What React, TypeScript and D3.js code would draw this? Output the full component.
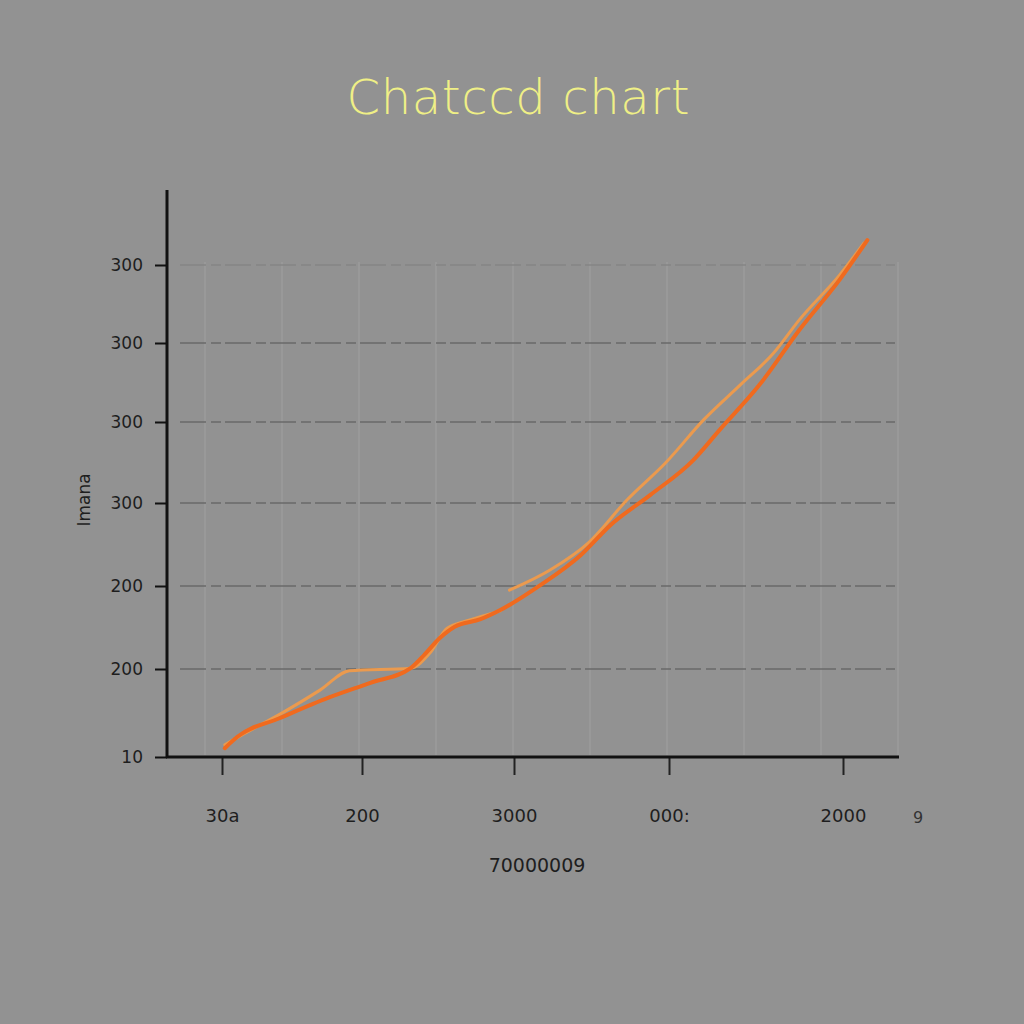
import React, { useEffect, useRef } from 'react';
import * as d3 from 'd3';

// tick labels (as printed on the chart)
const yTickLabels = ['10', '200', '200', '300', '300', '300', '300'];
const xTickLabels = ['30a', '200', '3000', '000:', '2000'];

// series 1 (dark orange)
const seriesAX = [0.02, 0.11, 0.41, 0.77, 1.05, 1.32, 1.41, 1.51, 1.61, 1.78, 1.91, 2.17, 2.43, 2.62, 2.88, 3.14, 3.29, 3.52, 3.75, 3.98, 4.14];
const seriesAY = [0.1, 0.23, 0.44, 0.68, 0.84, 1.01, 1.17, 1.37, 1.51, 1.6, 1.71, 2.01, 2.37, 2.73, 3.1, 3.53, 3.9, 4.47, 5.17, 5.81, 6.32];

// series 2 (light orange), null marks the break in the line
const seriesBX = [0.02, 0.13, 0.44, 0.7, 0.91, 1.32, 1.45, 1.56, 1.71, 1.91, 1.94, 1.97, 2.23, 2.48, 2.73, 2.98, 3.2, 3.41, 3.6, 3.75, 3.98, 4.12];
const seriesBY: (number | null)[] = [0.14, 0.24, 0.51, 0.76, 0.98, 1.01, 1.2, 1.49, 1.59, 1.7, null, 1.95, 2.19, 2.52, 3.04, 3.5, 4.03, 4.47, 4.87, 5.3, 5.87, 6.28];

const W = 1024;
const H = 1024;
const BG = '#929292';

const App: React.FC = () => {
  const svgRef = useRef<SVGSVGElement>(null);

  useEffect(() => {
    document.body.style.margin = '0';
    document.body.style.background = BG;
    if (!svgRef.current) return;
    const svg = d3.select(svgRef.current);
    svg.selectAll('*').remove();

    svg.append('rect').attr('width', W).attr('height', H).attr('fill', BG);

    // uneven spacing of the printed ticks -> polylinear scales
    const x = d3.scaleLinear().domain([0, 1, 2, 3, 4]).range([222, 362, 514, 669, 843]);
    const y = d3.scaleLinear().domain([0, 1, 2, 3, 4, 5, 6]).range([757, 669, 586, 503, 422, 343, 265]);

    // vertical faint grid
    const vGrid = d3.range(0, 10).map(i => 205 + i * 77);
    svg.append('g')
      .selectAll('line')
      .data(vGrid)
      .join('line')
      .attr('x1', d => d).attr('x2', d => d)
      .attr('y1', 262).attr('y2', 755)
      .attr('stroke', '#9b9b9b')
      .attr('stroke-width', 1.5);

    // horizontal dashed grid
    svg.append('g')
      .selectAll('line')
      .data(d3.range(1, 7))
      .join('line')
      .attr('x1', 180).attr('x2', 895)
      .attr('y1', d => y(d)).attr('y2', d => y(d))
      .attr('stroke', d => (d === 6 ? '#858585' : '#6a6a6a'))
      .attr('stroke-width', 1.6)
      .attr('stroke-dasharray', '26 5 10 4');

    // y axis
    const yAxis = svg.append('g')
      .attr('transform', 'translate(167,0)')
      .call(d3.axisLeft(y).tickValues(d3.range(0, 7)).tickSize(12).tickPadding(12)
        .tickFormat((d: any) => yTickLabels[d]));
    yAxis.select('.domain').remove();
    yAxis.selectAll('line').attr('stroke', '#111').attr('stroke-width', 2);
    yAxis.selectAll('text')
      .attr('fill', '#1e1e1e')
      .style('font-family', 'DejaVu Sans, sans-serif')
      .style('font-size', '17px');

    // x axis
    const xAxis = svg.append('g')
      .attr('transform', 'translate(0,757)')
      .call(d3.axisBottom(x).tickValues(d3.range(0, 5)).tickSize(18).tickPadding(34)
        .tickFormat((d: any) => xTickLabels[d]));
    xAxis.select('.domain').remove();
    xAxis.selectAll('line').attr('stroke', '#222').attr('stroke-width', 2);
    xAxis.selectAll('text')
      .attr('fill', '#1e1e1e')
      .style('font-family', 'DejaVu Sans, sans-serif')
      .style('font-size', '18px');

    // axis lines
    svg.append('line').attr('x1', 167).attr('x2', 167).attr('y1', 190).attr('y2', 758)
      .attr('stroke', '#111').attr('stroke-width', 3);
    svg.append('line').attr('x1', 166).attr('x2', 899).attr('y1', 757).attr('y2', 757)
      .attr('stroke', '#111').attr('stroke-width', 3);

    // lines
    const line = d3.line<[number, number | null]>()
      .defined(d => d[1] !== null)
      .x(d => x(d[0]))
      .y(d => y(d[1] as number))
      .curve(d3.curveMonotoneX);

    const dataB = seriesBX.map((v, i) => [v, seriesBY[i]] as [number, number | null]);
    const dataA = seriesAX.map((v, i) => [v, seriesAY[i]] as [number, number | null]);

    svg.append('path').datum(dataB).attr('d', line)
      .attr('fill', 'none').attr('stroke', '#eb9a4e').attr('stroke-width', 3)
      .attr('stroke-linecap', 'round');
    svg.append('path').datum(dataA).attr('d', line)
      .attr('fill', 'none').attr('stroke', '#f06a1e').attr('stroke-width', 4)
      .attr('stroke-linecap', 'round');

    // title
    svg.append('text')
      .attr('x', 518).attr('y', 114)
      .attr('text-anchor', 'middle')
      .attr('fill', '#efef86')
      .attr('textLength', 343)
      .style('font-family', 'DejaVu Sans, sans-serif')
      .style('font-weight', 200)
      .style('font-size', '48px')
      .text('Chatccd chart');

    // axis titles
    svg.append('text')
      .attr('x', 537).attr('y', 872)
      .attr('text-anchor', 'middle')
      .attr('fill', '#1e1e1e')
      .style('font-family', 'DejaVu Sans, sans-serif')
      .style('font-size', '19px')
      .text('70000009');

    svg.append('text')
      .attr('transform', 'translate(90,500) rotate(-90)')
      .attr('text-anchor', 'middle')
      .attr('fill', '#1e1e1e')
      .style('font-family', 'DejaVu Sans, sans-serif')
      .style('font-size', '17px')
      .text('Imana');

    svg.append('text')
      .attr('x', 918).attr('y', 823)
      .attr('text-anchor', 'middle')
      .attr('fill', '#333')
      .style('font-family', 'DejaVu Sans, sans-serif')
      .style('font-size', '16px')
      .text('9');
  }, []);

  return (
    <div style={{ position: 'fixed', left: 0, top: 0, width: W, height: H }}>
      <svg ref={svgRef} width={W} height={H} style={{ display: 'block' }} />
    </div>
  );
};

export default App;
